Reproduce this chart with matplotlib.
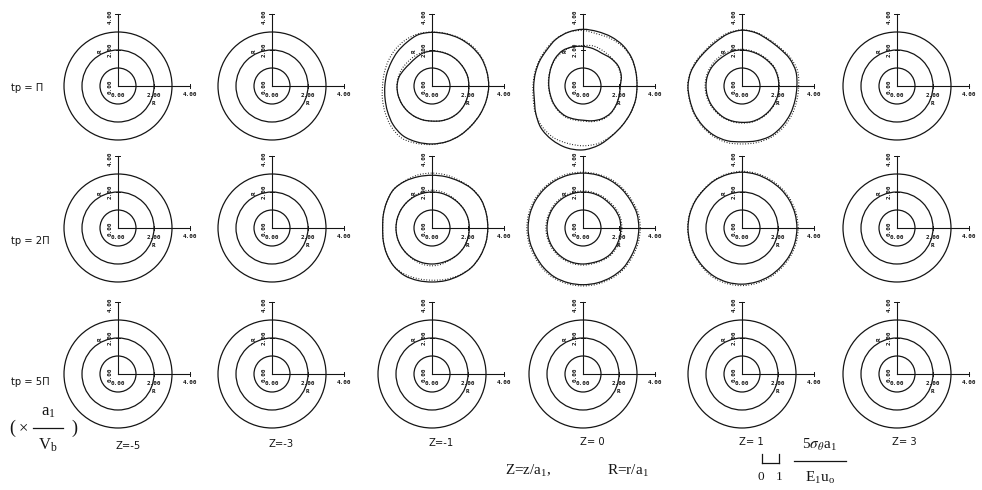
import numpy as np
import matplotlib
matplotlib.use("Agg")
import matplotlib.pyplot as plt
from matplotlib.path import Path
from matplotlib.patches import PathPatch

plt.rcParams['mathtext.fontset'] = 'stix'

W, H = 982, 490
fig = plt.figure(figsize=(W / 100, H / 100), dpi=100)
fig.patch.set_facecolor('white')

# panel layout (pixel centres) and scale
col_x = [118, 272, 432, 583, 742, 897]
row_y = [86, 228, 374]
PX_PER_UNIT = 18.0

row_labels = ["tp = \u03a0", "tp = 2\u03a0", "tp = 5\u03a0"]
col_labels = ["Z=-5", "Z=-3", "Z=-1", "Z= 0", "Z= 1", "Z= 3"]
base_radii = [1.0, 2.0, 3.0]

# radii sampled every 15 degrees (counter-clockwise from the +R axis)
angles_deg = np.arange(0, 360, 15)

r1c3_outer = [3.15, 3.15, 3.15, 3.10, 3.05, 3.00, 2.98, 2.95, 2.80, 2.70, 2.62, 2.60,
              2.62, 2.70, 2.85, 3.05, 3.20, 3.22, 3.22, 3.20, 3.15, 3.10, 3.10, 3.12]
r1c3_outer_dot = [3.15, 3.15, 3.18, 3.15, 3.08, 3.02, 3.00, 3.00, 2.95, 2.88, 2.80, 2.75,
                  2.75, 2.85, 3.00, 3.20, 3.35, 3.30, 3.25, 3.20, 3.15, 3.10, 3.10, 3.12]
r1c3_middle = [2.05, 2.05, 2.02, 2.00, 1.98, 1.95, 1.94, 1.90, 1.80, 1.75, 1.80, 1.90,
               1.94, 1.95, 1.95, 1.95, 1.95, 1.95, 1.95, 2.00, 2.05, 2.08, 2.08, 2.06]
r1c3_middle_dot = [2.05, 2.05, 2.02, 2.00, 1.98, 1.97, 1.96, 1.95, 1.92, 1.90, 1.92, 1.94,
                   1.95, 1.95, 1.95, 1.95, 1.95, 1.95, 1.95, 2.00, 2.05, 2.08, 2.08, 2.06]

r1c4_outer = [3.00, 3.04, 3.12, 3.16, 3.15, 3.13, 3.15, 3.10, 3.00, 2.84, 2.78, 2.74,
              2.74, 2.80, 3.03, 3.30, 3.45, 3.55, 3.55, 3.40, 3.20, 3.09, 3.04, 3.02]
r1c4_outer_dot = [3.00, 3.04, 3.10, 3.10, 3.05, 3.00, 3.08, 3.10, 3.02, 2.90, 2.82, 2.78,
                  2.78, 2.86, 3.05, 3.20, 3.30, 3.30, 3.32, 3.30, 3.18, 3.09, 3.04, 3.02]
r1c4_middle = [2.07, 2.20, 2.25, 2.18, 2.10, 2.15, 2.20, 2.25, 2.27, 2.18, 2.05, 1.95,
               1.90, 1.88, 1.90, 1.92, 1.93, 1.90, 1.90, 2.00, 2.10, 2.15, 2.12, 2.08]
r1c4_middle_dot = [2.07, 2.18, 2.22, 2.22, 2.25, 2.30, 2.25, 2.25, 2.22, 2.15, 2.05, 1.97,
                   1.92, 1.90, 1.92, 1.95, 1.98, 1.95, 1.95, 2.05, 2.15, 2.18, 2.12, 2.08]

r1c5_outer = [3.05, 3.10, 3.05, 2.95, 2.95, 3.05, 3.10, 3.00, 2.85, 2.80, 2.85, 2.95,
              3.00, 3.00, 3.05, 3.10, 3.15, 3.15, 3.10, 3.15, 3.20, 3.15, 3.10, 3.05]
r1c5_outer_dot = [3.15, 3.20, 3.12, 3.00, 3.00, 3.08, 3.12, 3.05, 2.92, 2.85, 2.90, 2.97,
                  3.02, 3.02, 3.08, 3.15, 3.22, 3.25, 3.22, 3.25, 3.28, 3.25, 3.20, 3.15]
r1c5_middle = [2.05, 2.05, 2.05, 2.00, 1.98, 1.98, 2.00, 2.00, 1.95, 1.95, 1.98, 2.00,
               2.00, 2.00, 2.00, 2.00, 2.02, 2.02, 2.02, 2.05, 2.05, 2.05, 2.05, 2.05]
r1c5_middle_dot = [2.08, 2.08, 2.08, 2.05, 2.02, 2.02, 2.04, 2.05, 2.05, 2.05, 2.05, 2.05,
                   2.05, 2.05, 2.05, 2.05, 2.05, 2.06, 2.06, 2.08, 2.08, 2.08, 2.08, 2.08]

r2c3_outer = [3.10, 3.12, 3.15, 3.10, 3.00, 2.95, 2.93, 2.95, 3.00, 3.02, 2.90, 2.80,
              2.74, 2.80, 2.90, 3.00, 3.05, 3.02, 3.00, 3.02, 3.05, 3.10, 3.10, 3.10]
r2c3_outer_dot = [3.10, 3.12, 3.15, 3.12, 3.05, 3.05, 3.05, 3.05, 3.02, 3.02, 2.90, 2.80,
                  2.74, 2.80, 2.90, 3.00, 2.98, 2.92, 2.90, 2.95, 3.02, 3.10, 3.10, 3.10]
r2c3_middle = [2.07, 2.07, 2.05, 2.02, 2.00, 2.00, 2.00, 2.00, 2.00, 2.00, 2.00, 2.00,
               2.00, 2.00, 2.00, 2.00, 2.00, 2.00, 2.00, 2.00, 2.02, 2.05, 2.07, 2.07]
r2c3_middle_dot = [2.07, 2.07, 2.05, 2.04, 2.05, 2.08, 2.10, 2.08, 2.04, 2.00, 2.00, 2.00,
                   2.00, 2.00, 2.00, 2.00, 2.04, 2.08, 2.10, 2.08, 2.04, 2.05, 2.07, 2.07]

r2c4_outer = [3.10, 3.10, 3.05, 3.05, 3.05, 3.05, 3.05, 3.05, 3.05, 3.05, 3.05, 3.05,
              3.05, 3.05, 3.05, 3.10, 3.15, 3.15, 3.15, 3.15, 3.15, 3.15, 3.10, 3.10]
r2c4_outer_dot = [3.18, 3.18, 3.12, 3.12, 3.12, 3.10, 3.10, 3.12, 3.12, 3.12, 3.12, 3.12,
                  3.12, 3.12, 3.12, 3.18, 3.22, 3.22, 3.22, 3.22, 3.22, 3.22, 3.18, 3.18]
r2c4_middle = [2.10, 2.10, 2.05, 2.00, 2.00, 2.00, 2.00, 2.00, 2.00, 2.00, 2.00, 2.00,
               2.00, 2.00, 2.00, 2.00, 2.00, 2.00, 2.00, 2.00, 2.05, 2.10, 2.10, 2.10]
r2c4_middle_dot = [2.16, 2.16, 2.12, 2.07, 2.06, 2.06, 2.06, 2.06, 2.06, 2.06, 2.06, 2.06,
                   2.06, 2.06, 2.06, 2.06, 2.06, 2.06, 2.06, 2.06, 2.10, 2.16, 2.16, 2.16]

r2c5_outer = [3.05, 3.05, 3.05, 3.05, 3.05, 3.08, 3.10, 3.08, 3.05, 3.00, 3.00, 3.00,
              3.00, 3.00, 3.02, 3.05, 3.10, 3.12, 3.12, 3.10, 3.08, 3.05, 3.05, 3.05]
r2c5_outer_dot = [3.12, 3.12, 3.12, 3.12, 3.12, 3.14, 3.15, 3.12, 3.08, 3.02, 3.02, 3.02,
                  3.02, 3.02, 3.05, 3.10, 3.18, 3.20, 3.20, 3.18, 3.15, 3.12, 3.12, 3.12]

# deformed contours per panel: (row, col) -> list of (radii, dotted?)
deformed = {
    (0, 2): [(r1c3_outer, False), (r1c3_outer_dot, True),
             (r1c3_middle, False), (r1c3_middle_dot, True)],
    (0, 3): [(r1c4_outer, False), (r1c4_outer_dot, True),
             (r1c4_middle, False), (r1c4_middle_dot, True)],
    (0, 4): [(r1c5_outer, False), (r1c5_outer_dot, True),
             (r1c5_middle, False), (r1c5_middle_dot, True)],
    (1, 2): [(r2c3_outer, False), (r2c3_outer_dot, True),
             (r2c3_middle, False), (r2c3_middle_dot, True)],
    (1, 3): [(r2c4_outer, False), (r2c4_outer_dot, True),
             (r2c4_middle, False), (r2c4_middle_dot, True)],
    (1, 4): [(r2c5_outer, False), (r2c5_outer_dot, True)],
}

INK = '#151515'
LW = 0.9
DOT = (0, (0.8, 1.6))


def closed_smooth_path(r_vals, theta_deg):
    """Closed Catmull-Rom curve through polar samples, as cubic Bezier path."""
    th = np.deg2rad(theta_deg)
    r = np.asarray(r_vals, float)
    pts = np.column_stack([r * np.cos(th), r * np.sin(th)])
    n = len(pts)
    verts = [pts[0]]
    codes = [Path.MOVETO]
    for i in range(n):
        p0, p1 = pts[i - 1], pts[i]
        p2, p3 = pts[(i + 1) % n], pts[(i + 2) % n]
        verts += [p1 + (p2 - p0) / 6.0, p2 - (p3 - p1) / 6.0, p2]
        codes += [Path.CURVE4] * 3
    return Path(verts, codes)


def make_panel_axes(cx, cy):
    # axes box in pixels around the panel centre, 18 px per unit
    left_u, right_u, down_u, up_u = 4.2, 5.2, 4.2, 4.6
    x0 = cx - left_u * PX_PER_UNIT
    y0 = cy + down_u * PX_PER_UNIT
    w = (left_u + right_u) * PX_PER_UNIT
    h = (down_u + up_u) * PX_PER_UNIT
    ax = fig.add_axes([x0 / W, 1 - y0 / H, w / W, h / H])
    ax.set_xlim(-left_u, right_u)
    ax.set_ylim(-down_u, up_u)
    ax.set_axis_off()
    return ax


tick_kw = dict(fontsize=4.3, family='DejaVu Sans Mono', weight='bold', color=INK)

for ri, cy in enumerate(row_y):
    for ci, cx in enumerate(col_x):
        ax = make_panel_axes(cx, cy)
        curves = deformed.get((ri, ci))
        if curves is None:
            for rad in base_radii:
                ax.add_patch(plt.Circle((0, 0), rad, fill=False, lw=LW, color=INK))
        else:
            ax.add_patch(plt.Circle((0, 0), base_radii[0], fill=False, lw=LW, color=INK))
            has_middle = len(curves) > 2
            if not has_middle:
                ax.add_patch(plt.Circle((0, 0), base_radii[1], fill=False, lw=LW, color=INK))
            for rv, dotted in curves:
                ax.add_patch(PathPatch(closed_smooth_path(rv, angles_deg), fill=False,
                                       lw=0.8 if dotted else LW, color=INK,
                                       linestyle=DOT if dotted else '-'))
        # R axes
        ax.plot([0, 4], [0, 0], color=INK, lw=0.8)
        ax.plot([0, 0], [0, 4], color=INK, lw=0.8)
        for t in (2, 4):
            ax.plot([t, t], [-0.1, 0.1], color=INK, lw=0.7)
            ax.plot([-0.1, 0.1], [t, t], color=INK, lw=0.7)
        ax.plot([-0.15, 0], [4, 4], color=INK, lw=0.7)
        # tick labels
        ax.text(0.0, -0.5, "0.00", ha='center', va='center', **tick_kw)
        ax.text(2.0, -0.5, "2.00", ha='center', va='center', **tick_kw)
        ax.text(4.0, -0.45, "4.00", ha='center', va='center', **tick_kw)
        ax.text(1.95, -0.98, "R", ha='center', va='center', **tick_kw)
        ax.text(-0.45, -0.05, "0.00", ha='center', va='center', rotation=90, **tick_kw)
        ax.text(-0.45, 2.0, "2.00", ha='center', va='center', rotation=90, **tick_kw)
        ax.text(-0.45, 3.85, "4.00", ha='center', va='center', rotation=90, **tick_kw)
        ax.text(-1.0, 1.95, "R", ha='center', va='center', rotation=90, **tick_kw)


def px_text(x, y, s, **kw):
    fig.text(x / W, 1 - y / H, s, **kw)


label_kw = dict(fontsize=7.2, family='DejaVu Sans', color=INK, va='center')
label_y = [88, 241, 382]
for lbl, y in zip(row_labels, label_y):
    px_text(11, y, lbl, ha='left', **label_kw)

zlab_pos = [(128, 446), (281, 444), (441, 443), (592, 442), (751, 442), (904, 442)]
for lbl, (x, y) in zip(col_labels, zlab_pos):
    px_text(x, y, lbl, ha='center', **label_kw)

serif = dict(family='Liberation Serif', color=INK, va='center')
# (x a1 / Vb) factor
px_text(9, 428, "(", ha='left', fontsize=13, **serif)
px_text(19, 428, "\u00d7", ha='left', fontsize=12, **serif)
fig.add_artist(plt.Line2D([33 / W, 63 / W], [1 - 428 / H, 1 - 428 / H], color=INK, lw=0.9))
px_text(48, 412, r"a$_\mathregular{1}$", ha='center', fontsize=12, **serif)
px_text(48, 445, r"V$_\mathregular{b}$", ha='center', fontsize=12, **serif)
px_text(71, 428, ")", ha='left', fontsize=13, **serif)

px_text(505, 471, r"Z=z/a$_\mathregular{1}$,", ha='left', fontsize=11, **serif)
px_text(607, 471, r"R=r/a$_\mathregular{1}$", ha='left', fontsize=11, **serif)

# scale bar for the stress quantity
sb_ax = fig.add_axes([758 / W, 1 - 466 / H, 30 / W, 16 / H])
sb_ax.set_xlim(-0.2, 1.5)
sb_ax.set_ylim(0, 1)
sb_ax.set_axis_off()
sb_ax.plot([0, 1], [0.2, 0.2], color=INK, lw=0.9)
sb_ax.plot([0, 0], [0.2, 0.75], color=INK, lw=0.9)
sb_ax.plot([1, 1], [0.2, 0.75], color=INK, lw=0.9)
px_text(761, 477, "0", ha='center', fontsize=9.5, **serif)
px_text(779, 477, "1", ha='center', fontsize=9.5, **serif)
px_text(819, 445, r"5$\sigma_\theta$a$_\mathregular{1}$", ha='center', fontsize=11, **serif)
fig.add_artist(plt.Line2D([794 / W, 846 / W], [1 - 461 / H, 1 - 461 / H], color=INK, lw=0.9))
px_text(820, 478, r"E$_\mathregular{1}$u$_\mathregular{o}$", ha='center', fontsize=11, **serif)

fig.savefig("out.png", dpi=100, facecolor='white')
